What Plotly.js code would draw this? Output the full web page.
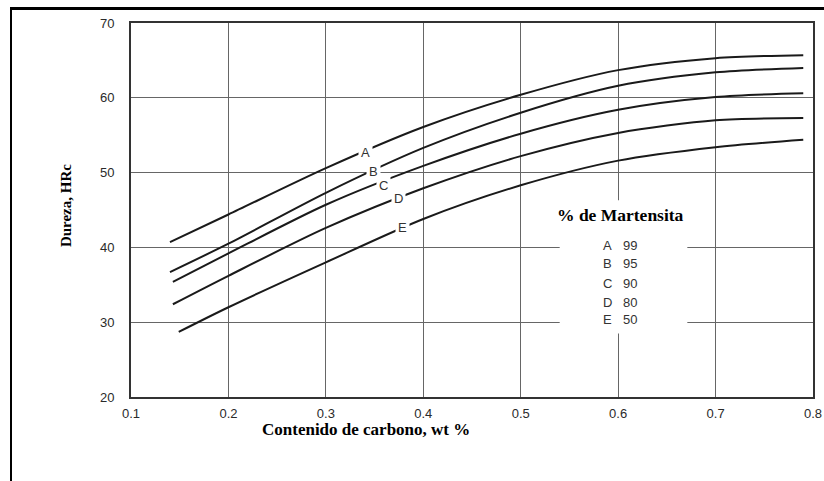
<!DOCTYPE html>
<html>
<head>
<meta charset="utf-8">
<script src="https://cdn.plot.ly/plotly-3.0.1.min.js"></script>
<style>
  html, body { margin: 0; padding: 0; background: #ffffff; }
  #frame { position: absolute; left: 10px; top: 7px; width: 820px; height: 480px;
           border-top: 3px solid #000; border-left: 2px solid #000; }
  #chart { position: absolute; left: 0; top: 0; width: 824px; height: 481px; }
</style>
</head>
<body>
<div id="frame"></div>
<div id="chart"></div>
<script>
// Carbon content (wt %) sample points for each curve
const xA = [0.140, 0.20, 0.30, 0.40, 0.50, 0.60, 0.70, 0.790];
const yA = [40.7, 44.4, 50.6, 56.1, 60.4, 63.7, 65.3, 65.7];
const xB = [0.140, 0.20, 0.30, 0.40, 0.50, 0.60, 0.70, 0.790];
const yB = [36.7, 40.5, 47.3, 53.3, 58.0, 61.6, 63.4, 64.0];
const xC = [0.143, 0.20, 0.30, 0.40, 0.50, 0.60, 0.70, 0.790];
const yC = [35.4, 39.2, 45.7, 50.9, 55.2, 58.4, 60.1, 60.6];
const xD = [0.143, 0.20, 0.30, 0.40, 0.50, 0.60, 0.70, 0.790];
const yD = [32.4, 36.2, 42.6, 47.9, 52.2, 55.3, 57.0, 57.3];
const xE = [0.149, 0.20, 0.30, 0.40, 0.50, 0.60, 0.70, 0.790];
const yE = [28.7, 32.0, 38.0, 43.8, 48.3, 51.6, 53.4, 54.4];

const curveLetters = ["A", "B", "C", "D", "E"];
const martensite = ["99", "95", "90", "80", "50"];
// curve label positions (on the curves)
const labelX = [0.341, 0.349, 0.359, 0.375, 0.379];
const labelY = [52.75, 50.2, 48.3, 46.6, 42.7];

const xTicks = [0.1, 0.2, 0.3, 0.4, 0.5, 0.6, 0.7, 0.8];
const xTickText = ["0.1", "0.2", "0.3", "0.4", "0.5", "0.6", "0.7", "0.8"];
const yTicks = [20, 30, 40, 50, 60, 70];

const xs = [xA, xB, xC, xD, xE];
const ys = [yA, yB, yC, yD, yE];

const traces = curveLetters.map((n, i) => ({
  type: "scatter", mode: "lines", name: n,
  x: xs[i], y: ys[i],
  line: { color: "#1a1a1a", width: 2, shape: "spline", smoothing: 0.8 },
  hoverinfo: "skip"
}));

const sans = "Liberation Sans, Arial, sans-serif";
const serif = "Liberation Serif, Times New Roman, serif";
const tickFont = { family: sans, size: 13, color: "#2a2a2a" };
const annotations = [];
curveLetters.forEach((n, i) => {
  annotations.push({
    x: labelX[i], y: labelY[i], xref: "x", yref: "y", text: n, showarrow: false,
    font: { family: sans, size: 13, color: "#333" },
    bgcolor: "#ffffff", borderpad: 2
  });
});
// legend-like text block
annotations.push({
  x: 0.602, y: 44.3, xref: "x", yref: "y", text: "<b>% de Martensita</b>", showarrow: false,
  font: { family: serif, size: 17.5, color: "#000" }
});
const legY = [40.3, 37.8, 35.2, 32.7, 30.3];
curveLetters.forEach((n, i) => {
  annotations.push({ x: 0.589, y: legY[i], xref: "x", yref: "y", text: n, showarrow: false,
    font: { family: sans, size: 13, color: "#333" } });
  annotations.push({ x: 0.612, y: legY[i], xref: "x", yref: "y", text: martensite[i], showarrow: false,
    font: { family: sans, size: 13, color: "#333" } });
});
// axis titles
annotations.push({
  x: 0.345, y: -0.118, xref: "paper", yref: "paper", text: "<b>Contenido de carbono, wt %</b>",
  showarrow: false, font: { family: serif, size: 17, color: "#000" }
});
annotations.push({
  x: -0.11, y: 0.513, xref: "paper", yref: "paper", text: "<b>Dureza, HRc</b>", textangle: -90,
  showarrow: false, font: { family: serif, size: 15, color: "#000" }
});

const layout = {
  width: 824, height: 481,
  margin: { l: 131, r: 11, t: 23, b: 84 },
  paper_bgcolor: "rgba(0,0,0,0)", plot_bgcolor: "#ffffff",
  showlegend: false,
  xaxis: {
    range: [0.1, 0.8], tickvals: xTicks, ticktext: xTickText,
    showgrid: true, gridcolor: "#666", gridwidth: 1.2, zeroline: false,
    showline: true, mirror: true, linecolor: "#333", linewidth: 2,
    ticks: "", tickfont: tickFont, ticklabelstandoff: 3
  },
  yaxis: {
    range: [20, 70], tickvals: yTicks,
    showgrid: true, gridcolor: "#666", gridwidth: 1.2, zeroline: false,
    showline: true, mirror: true, linecolor: "#333", linewidth: 2,
    ticks: "", tickfont: tickFont, ticklabelstandoff: 12
  },
  shapes: [{
    type: "rect", xref: "x", yref: "y", x0: 0.540, x1: 0.671, y0: 28.5, y1: 46.3,
    fillcolor: "#ffffff", line: { width: 0 }, layer: "above"
  }],
  annotations: annotations
};

Plotly.newPlot("chart", traces, layout, { displayModeBar: false, staticPlot: true });
</script>
</body>
</html>
